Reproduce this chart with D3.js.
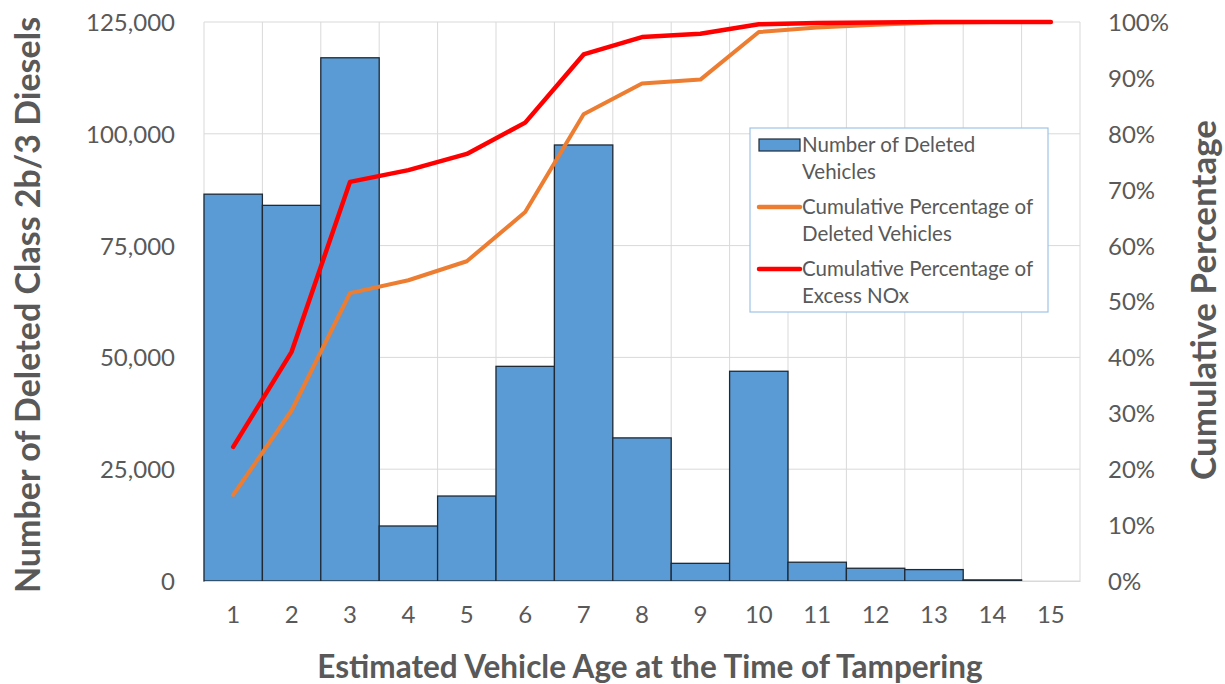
<!DOCTYPE html>
<html>
<head>
<meta charset="utf-8">
<script src="https://cdn.jsdelivr.net/npm/d3@7"></script>
<style>
  body { margin: 0; background: #fff; }
</style>
</head>
<body>
<div id="chartDiv"></div>
<script>
var ages = ["1","2","3","4","5","6","7","8","9","10","11","12","13","14","15"];
var deletedVehicles = [86500, 84000, 117000, 12300, 19000, 48000, 97500, 32000, 3950, 46900, 4200, 2850, 2550, 250, 0];
var cumDeleted = [15.4, 30.5, 51.5, 53.8, 57.2, 66.0, 83.5, 89.0, 89.7, 98.2, 99.0, 99.5, 99.9, 100, 100];
var cumNox = [24.0, 41.0, 71.4, 73.5, 76.4, 82.0, 94.2, 97.3, 97.9, 99.6, 99.8, 99.9, 100, 100, 100];
var leftTicks = [0, 25000, 50000, 75000, 100000, 125000];
var rightTicks = [0, 10, 20, 30, 40, 50, 60, 70, 80, 90, 100];
var legendItems = [
  { type: "bar", lines: ["Number of Deleted", "Vehicles"], color: "#5b9bd5" },
  { type: "line", lines: ["Cumulative Percentage of", "Deleted Vehicles"], color: "#ed7d31" },
  { type: "line", lines: ["Cumulative Percentage of", "Excess NOx"], color: "#ff0000" }
];

var svgWidth = 1225,
  svgHeight = 684,
  plotLeft = 204,
  plotRight = 1080,
  plotTop = 22,
  plotBottom = 581,
  textColor = "#595959",
  fontFam = "Lato, 'Open Sans', sans-serif";

var svg = d3.select("#chartDiv")
  .append("svg")
  .attr("width", svgWidth)
  .attr("height", svgHeight);

var x = d3.scaleBand()
  .domain(ages)
  .range([plotLeft, plotRight])
  .padding(0);

var yLeft = d3.scaleLinear()
  .domain([0, 125000])
  .range([plotBottom, plotTop]);

var yRight = d3.scaleLinear()
  .domain([0, 100])
  .range([plotBottom, plotTop]);

// grid
svg.append("g")
  .selectAll("line")
  .data(leftTicks)
  .enter()
  .append("line")
  .attr("x1", plotLeft)
  .attr("x2", plotRight)
  .attr("y1", function(d) { return yLeft(d); })
  .attr("y2", function(d) { return yLeft(d); })
  .attr("stroke", "#d9d9d9")
  .attr("stroke-width", 1);

var vgrid = ages.map(function(d) { return x(d); }).concat([plotRight]);
svg.append("g")
  .selectAll("line")
  .data(vgrid)
  .enter()
  .append("line")
  .attr("x1", function(d) { return d; })
  .attr("x2", function(d) { return d; })
  .attr("y1", plotTop)
  .attr("y2", plotBottom)
  .attr("stroke", "#d9d9d9")
  .attr("stroke-width", 1);

// bars
svg.append("g")
  .selectAll("rect")
  .data(deletedVehicles)
  .enter()
  .append("rect")
  .attr("x", function(d, i) { return x(ages[i]); })
  .attr("y", function(d) { return yLeft(d); })
  .attr("width", x.bandwidth())
  .attr("height", function(d) { return plotBottom - yLeft(d); })
  .attr("fill", "#5b9bd5")
  .attr("stroke", function(d) { return d > 0 ? "#1e2a36" : "none"; })
  .attr("stroke-width", 1.3);

// lines
var line = d3.line()
  .x(function(d, i) { return x(ages[i]) + x.bandwidth() / 2; })
  .y(function(d) { return yRight(d); });

svg.append("path")
  .datum(cumDeleted)
  .attr("d", line)
  .attr("fill", "none")
  .attr("stroke", "#ed7d31")
  .attr("stroke-width", 4)
  .attr("stroke-linejoin", "round")
  .attr("stroke-linecap", "round");

svg.append("path")
  .datum(cumNox)
  .attr("d", line)
  .attr("fill", "none")
  .attr("stroke", "#ff0000")
  .attr("stroke-width", 4.5)
  .attr("stroke-linejoin", "round")
  .attr("stroke-linecap", "round");

// left axis
var leftAxis = svg.append("g")
  .attr("transform", "translate(" + plotLeft + ",0)")
  .call(d3.axisLeft(yLeft).tickValues(leftTicks).tickSize(0).tickPadding(29).tickFormat(d3.format(",")));
leftAxis.select(".domain").remove();
leftAxis.selectAll("text")
  .attr("font-family", fontFam)
  .attr("font-size", "24px")
  .attr("fill", textColor)
  .attr("dy", "0.35em");

// right axis
var rightAxis = svg.append("g")
  .attr("transform", "translate(" + plotRight + ",0)")
  .call(d3.axisRight(yRight).tickValues(rightTicks).tickSize(0).tickPadding(28).tickFormat(function(d) { return d + "%"; }));
rightAxis.select(".domain").remove();
rightAxis.selectAll("text")
  .attr("font-family", fontFam)
  .attr("font-size", "24px")
  .attr("fill", textColor)
  .attr("dy", "0.35em");

// bottom axis
var bottomAxis = svg.append("g")
  .attr("transform", "translate(0," + plotBottom + ")")
  .call(d3.axisBottom(x).tickSize(0).tickPadding(25));
bottomAxis.select(".domain")
  .attr("stroke", "#d9d9d9");
bottomAxis.selectAll("text")
  .attr("font-family", fontFam)
  .attr("font-size", "24px")
  .attr("fill", textColor);

// axis titles
svg.append("text")
  .text("Estimated Vehicle Age at the Time of Tampering")
  .attr("x", 650)
  .attr("y", 678)
  .attr("font-family", fontFam)
  .attr("font-size", "31.5px")
  .attr("font-weight", "bold")
  .attr("fill", textColor)
  .style("text-anchor", "middle");

svg.append("text")
  .text("Number of Deleted Class 2b/3 Diesels")
  .attr("transform", "translate(40,305) rotate(-90)")
  .attr("font-family", fontFam)
  .attr("font-size", "34px")
  .attr("font-weight", "bold")
  .attr("fill", textColor)
  .style("text-anchor", "middle");

svg.append("text")
  .text("Cumulative Percentage")
  .attr("transform", "translate(1216,300) rotate(-90)")
  .attr("font-family", fontFam)
  .attr("font-size", "35px")
  .attr("font-weight", "bold")
  .attr("fill", textColor)
  .style("text-anchor", "middle");

// legend
var legendX = 750, legendY = 128, legendW = 298, legendH = 184;
var legend = svg.append("g");
legend.append("rect")
  .attr("x", legendX)
  .attr("y", legendY)
  .attr("width", legendW)
  .attr("height", legendH)
  .attr("fill", "#fff")
  .attr("stroke", "#9dc3e6")
  .attr("stroke-width", 1.2);

var items = legend.selectAll("g.item")
  .data(legendItems)
  .enter()
  .append("g")
  .attr("transform", function(d, i) { return "translate(" + legendX + "," + (legendY + 17 + i * 62) + ")"; });

items.each(function(d) {
  var g = d3.select(this);
  if (d.type === "bar") {
    g.append("rect")
      .attr("x", 9)
      .attr("y", -6)
      .attr("width", 41)
      .attr("height", 12)
      .attr("fill", d.color)
      .attr("stroke", "#1e2a36")
      .attr("stroke-width", 1.2);
  } else {
    g.append("line")
      .attr("x1", 9)
      .attr("x2", 50)
      .attr("y1", 0)
      .attr("y2", 0)
      .attr("stroke", d.color)
      .attr("stroke-width", 4.5)
      .attr("stroke-linecap", "round");
  }
  g.selectAll("text")
    .data(d.lines)
    .enter()
    .append("text")
    .text(function(t) { return t; })
    .attr("x", 52)
    .attr("y", function(t, j) { return j * 27; })
    .attr("dy", "0.35em")
    .attr("font-family", fontFam)
    .attr("font-size", "20.5px")
    .attr("fill", textColor);
});
</script>
</body>
</html>
